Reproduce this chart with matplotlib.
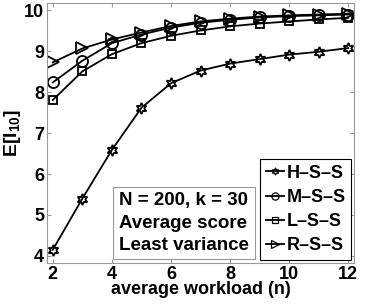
import matplotlib.pyplot as plt
import numpy as np

plt.rcParams['font.family'] = ['Liberation Sans', 'DejaVu Sans']
plt.rcParams['font.weight'] = 'bold'
plt.rcParams['mathtext.fontset'] = 'custom'
plt.rcParams['mathtext.rm'] = 'Liberation Sans:bold'
plt.rcParams['mathtext.it'] = 'Liberation Sans:bold'
plt.rcParams['mathtext.bf'] = 'Liberation Sans:bold'

# data
workload = [2, 3, 4, 5, 6, 7, 8, 9, 10, 11, 12]
hss = [4.15, 5.4, 6.59, 7.62, 8.22, 8.53, 8.70, 8.81, 8.92, 8.99, 9.08]
mss = [8.24, 8.77, 9.20, 9.41, 9.58, 9.70, 9.77, 9.83, 9.86, 9.88, 9.90]
lss = [7.81, 8.51, 8.93, 9.20, 9.38, 9.51, 9.61, 9.68, 9.73, 9.78, 9.82]
rss = [8.73, 9.07, 9.29, 9.46, 9.62, 9.73, 9.80, 9.85, 9.88, 9.90, 9.92]

fig = plt.figure(figsize=(3.78, 3.06), dpi=100)
ax = fig.add_axes([0.124, 0.141, 0.813, 0.849])

ms = 7
ax.plot(workload, hss, color='black', lw=1.3, marker=(6, 1, 0), ms=ms + 1,
        mfc='none', mec='black', mew=1.3, label='H\u2013S\u2013S')
ax.plot(workload, mss, color='black', lw=1.3, marker='o', ms=ms + 1,
        mfc='none', mec='black', mew=1.3, label='M\u2013S\u2013S')
ax.plot(workload, lss, color='black', lw=1.3, marker='s', ms=ms - 1,
        mfc='none', mec='black', mew=1.3, label='L\u2013S\u2013S')
ax.plot(workload, rss, color='black', lw=1.3, marker='>', ms=ms + 2,
        mfc='none', mec='black', mew=1.3, label='R\u2013S\u2013S')

ax.set_xlim(1.8, 12.2)
ax.set_ylim(3.83, 10.18)
ax.set_xticks([2, 4, 6, 8, 10, 12])
ax.set_yticks([4, 5, 6, 7, 8, 9, 10])
ax.tick_params(direction='in', top=True, right=True, length=3,
               color='#999999', labelsize=13, pad=2)
for s in ax.spines.values():
    s.set_color('#999999')

ax.set_xlabel('average workload (n)', fontsize=13, fontweight='bold', labelpad=-1)
ax.set_ylabel('E[I$_{10}$]', fontsize=14, fontweight='bold', labelpad=1)

leg = ax.legend(loc='lower right', bbox_to_anchor=(0.99, 0.012),
                fontsize=13, handlelength=1.0, handletextpad=0.15,
                markerscale=0.65, borderaxespad=0, fancybox=False,
                framealpha=1, edgecolor='black', labelspacing=0.4,
                borderpad=0.3)
leg.get_frame().set_linewidth(0.8)
for h in leg.legend_handles:
    h.set_markeredgewidth(0.9)

ax.text(0.235, 0.035, 'N = 200, k = 30\nAverage score\nLeast variance',
        transform=ax.transAxes, fontsize=13.5, fontweight='bold',
        linespacing=1.4, va='bottom', ha='left',
        bbox=dict(boxstyle='square,pad=0.3', fc='white', ec='#999999', lw=0.8))

fig.savefig('out.png', dpi=100)
